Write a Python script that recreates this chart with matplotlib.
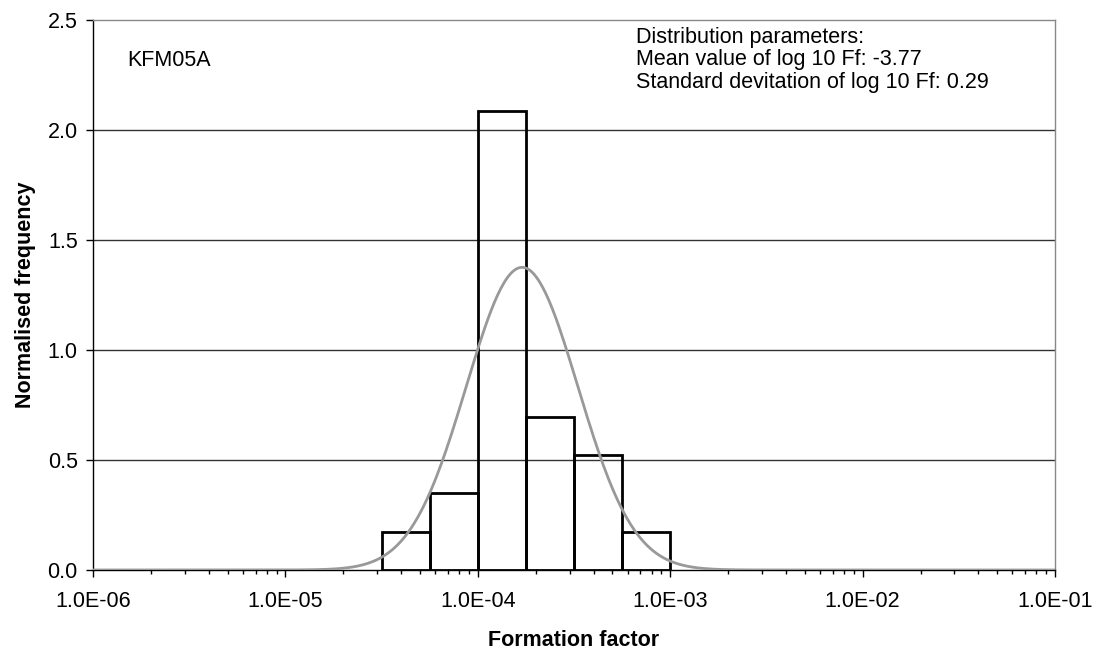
import numpy as np
import matplotlib.pyplot as plt
from matplotlib.ticker import FixedLocator, LogLocator, NullFormatter

plt.rcParams['font.family'] = ['Liberation Sans', 'DejaVu Sans']

# histogram of log10(Ff), bin width 0.25
bin_edges_log = [-4.5, -4.25, -4.0, -3.75, -3.5, -3.25, -3.0]
freq = [0.174, 0.348, 2.087, 0.696, 0.522, 0.174]

# fitted normal distribution parameters
mean_log = -3.77
std_log = 0.29

x_ticks = [1e-6, 1e-5, 1e-4, 1e-3, 1e-2, 1e-1]
x_ticklabels = ['1.0E-06', '1.0E-05', '1.0E-04', '1.0E-03', '1.0E-02', '1.0E-01']
y_ticks = [0.0, 0.5, 1.0, 1.5, 2.0, 2.5]

fig = plt.figure(figsize=(10.97, 6.52), dpi=100)
ax = fig.add_axes([0.0848, 0.1258, 0.8769, 0.8435])

edges = 10.0 ** np.array(bin_edges_log)
ax.bar(edges[:-1], freq, width=np.diff(edges), align='edge',
       facecolor='none', edgecolor='black', linewidth=2, zorder=3)

xl = np.linspace(-6, -1, 600)
pdf = np.exp(-0.5 * ((xl - mean_log) / std_log) ** 2) / (std_log * np.sqrt(2 * np.pi))
ax.plot(10.0 ** xl, pdf, color='#999999', linewidth=2, zorder=4)

ax.set_xscale('log')
ax.set_xlim(1e-6, 1e-1)
ax.set_ylim(0, 2.5)
ax.xaxis.set_major_locator(FixedLocator(x_ticks))
ax.set_xticklabels(x_ticklabels)
ax.xaxis.set_minor_locator(LogLocator(base=10, subs=np.arange(2, 10)))
ax.xaxis.set_minor_formatter(NullFormatter())
ax.set_yticks(y_ticks)
ax.set_yticklabels(['%.1f' % v for v in y_ticks])

ax.tick_params(axis='both', which='major', labelsize=15.5, length=5, width=1, direction='out', color='black')
ax.tick_params(axis='x', which='minor', length=3, width=1, direction='out')
ax.tick_params(axis='x', pad=10)
ax.tick_params(axis='y', pad=6)

for v in y_ticks[1:-1]:
    ax.axhline(v, color='#333333', linewidth=1, zorder=1)

ax.spines['top'].set_color('#888888')
ax.spines['right'].set_color('#888888')
ax.spines['left'].set_color('black')
ax.spines['bottom'].set_color('black')
for s in ax.spines.values():
    s.set_linewidth(1)

ax.set_xlabel('Formation factor', fontsize=15.5, fontweight='bold', labelpad=13)
ax.set_ylabel('Normalised frequency', fontsize=15.5, fontweight='bold', labelpad=8)

ax.text(0.036, 0.927, 'KFM05A', transform=ax.transAxes, fontsize=15.5, va='center')
ax.text(0.564, 0.988,
        'Distribution parameters:\nMean value of log 10 Ff: -3.77\nStandard devitation of log 10 Ff: 0.29',
        transform=ax.transAxes, fontsize=15.5, va='top', linespacing=1.1)

fig.savefig('out.png', dpi=100)
